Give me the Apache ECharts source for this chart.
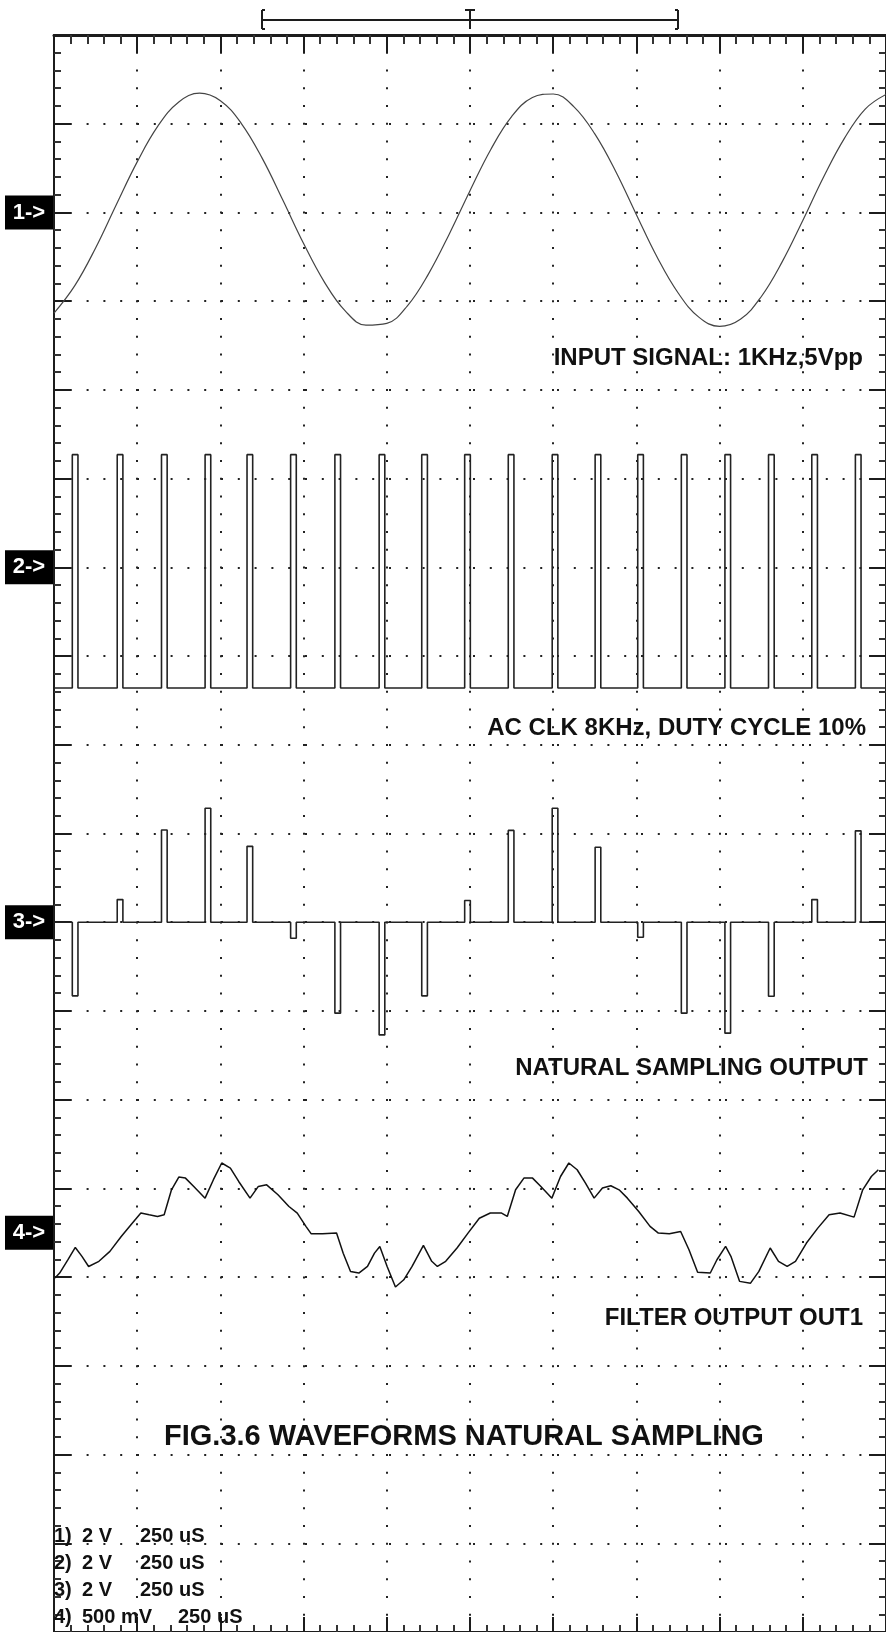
<!DOCTYPE html>
<html>
<head>
<meta charset="utf-8">
<title>FIG.3.6 Waveforms natural sampling</title>
<script src="https://cdn.jsdelivr.net/npm/echarts@6/dist/echarts.min.js"></script>
<style>
  html, body { margin: 0; padding: 0; background: #fff; }
  #chart { width: 886px; height: 1632px; }
</style>
</head>
<body>
<div id="chart"></div>
<script>
// scope screen: 10 div across at 250 uS/div, 18 div down
const timeMax = 2500;
const timeStep = 250;
const divsDown = 18;

// per channel volts/div and where its ground marker sits (div from top)
const channelNames = ['1->', '2->', '3->', '4->'];
const voltsPerDiv = [2, 2, 2, 0.5];
const groundDiv = [2, 6, 10, 13.5];

// ch1: input sine (uS, V)
const inputTime = [0, 62.5, 125, 187.5, 250, 312.5, 375, 437.5, 500, 562.5, 625, 687.5, 750, 812.5, 875, 937.5,
  1000, 1062.5, 1125, 1187.5, 1250, 1312.5, 1375, 1437.5, 1500, 1562.5, 1625, 1687.5, 1750, 1812.5, 1875, 1937.5,
  2000, 2062.5, 2125, 2187.5, 2250, 2312.5, 2375, 2437.5, 2500];
const inputVolts = [-2.27, -1.65, -0.80, 0.18, 1.14, 1.95, 2.49, 2.69, 2.52, 2.01, 1.23, 0.28, -0.70, -1.57, -2.22, -2.54,
  -2.50, -2.10, -1.39, -0.49, 0.49, 1.42, 2.16, 2.59, 2.67, 2.38, 1.77, 0.93, -0.05, -1.01, -1.81, -2.36,
  -2.57, -2.41, -1.90, -1.12, -0.18, 0.80, 1.67, 2.33, 2.66];

// ch2: clock pulses, rising edges (uS)
const clockRise = [55, 190, 323, 454, 580, 711, 844, 977, 1105, 1234, 1365, 1497, 1626, 1754, 1885, 2016, 2147, 2277, 2408];
const clockWidth = 17;
const clockHigh = 2.54;
const clockLow = -2.72;

// ch3: sampled pulse heights (V), one per clock pulse
const sampleVolts = [-1.66, 0.51, 2.08, 2.57, 1.71, -0.36, -2.05, -2.54, -1.66, 0.49, 2.07, 2.57, 1.69, -0.34, -2.05, -2.50, -1.67, 0.51, 2.06];

// ch4: filter output (uS, V)
const filterTime = [3, 17, 42, 64, 84, 104, 135, 168, 202, 235, 261, 286, 311, 331, 353, 375, 395, 420, 454, 479,
  504, 530, 555, 589, 614, 639, 673, 706, 731, 757, 773, 807, 849, 869, 891, 916, 942, 963, 979, 1001,
  1026, 1051, 1076, 1110, 1135, 1152, 1177, 1211, 1244, 1278, 1311, 1345, 1362, 1387, 1412, 1438, 1463, 1496, 1522, 1547,
  1572, 1597, 1623, 1648, 1673, 1698, 1723, 1757, 1791, 1816, 1849, 1883, 1908, 1934, 1972, 1992, 2018, 2034, 2060, 2093,
  2118, 2152, 2177, 2203, 2228, 2261, 2295, 2329, 2362, 2404, 2430, 2456, 2477];
const filterVolts = [-0.255, -0.227, -0.152, -0.083, -0.133, -0.190, -0.161, -0.105, -0.021, 0.054, 0.111, 0.101, 0.092, 0.101, 0.242, 0.314, 0.308, 0.261, 0.195, 0.299,
  0.393, 0.364, 0.289, 0.195, 0.261, 0.270, 0.214, 0.148, 0.111, 0.036, -0.006, -0.006, -0.002, -0.115, -0.218, -0.227, -0.190, -0.115, -0.077, -0.190,
  -0.306, -0.265, -0.190, -0.071, -0.161, -0.190, -0.161, -0.086, -0.002, 0.082, 0.111, 0.111, 0.092, 0.242, 0.308, 0.308, 0.261, 0.195, 0.317, 0.393,
  0.355, 0.280, 0.195, 0.252, 0.265, 0.242, 0.195, 0.120, 0.036, -0.002, -0.006, 0.007, -0.096, -0.223, -0.227, -0.152, -0.077, -0.133, -0.274, -0.284,
  -0.218, -0.086, -0.161, -0.190, -0.161, -0.058, 0.026, 0.101, 0.111, 0.088, 0.242, 0.317, 0.355];

// trigger window bracket above the screen (uS)
const bracketSpan = [625, 1875];
const triggerTime = 1250;

const traceTitles = ['INPUT SIGNAL: 1KHz,5Vpp', 'AC CLK 8KHz, DUTY CYCLE 10%', 'NATURAL SAMPLING OUTPUT', 'FILTER OUTPUT OUT1'];
const figTitle = 'FIG.3.6 WAVEFORMS NATURAL SAMPLING';
const settingRows = [['1)', '2 V', '250 uS'], ['2)', '2 V', '250 uS'], ['3)', '2 V', '250 uS'], ['4)', '500 mV', '250 uS']];

const ink = '#1c1c1c';
const FONT = "'Liberation Sans', Arial, sans-serif";

function zip(xs, ys) { return xs.map((x, i) => [x, ys[i]]); }

function pulseTrain(rises, width, highs, base) {
  const pts = [[0, base]];
  rises.forEach((t, i) => {
    const h = Array.isArray(highs) ? highs[i] : highs;
    pts.push([t, base], [t, h], [t + width, h], [t + width, base]);
  });
  pts.push([timeMax, base]);
  return pts;
}

function rulerX(position, tickLen, minorLen, lineW, withGrid) {
  return {
    type: 'value', position, min: 0, max: timeMax, interval: timeStep,
    axisLine: { onZero: false, lineStyle: { color: ink, width: lineW } },
    axisTick: { inside: true, length: tickLen, lineStyle: { color: ink, width: 2 } },
    minorTick: { show: true, splitNumber: 5, length: minorLen, lineStyle: { color: '#333', width: 2 } },
    axisLabel: { show: false },
    splitLine: { show: withGrid, lineStyle: { color: '#222', width: 2, type: [2, 15.75], dashOffset: 1 } }
  };
}

function rulerY(position, withGrid) {
  return {
    type: 'value', position, min: 0, max: divsDown, interval: 1,
    axisLine: { onZero: false, lineStyle: { color: ink, width: 2 } },
    axisTick: { inside: true, length: 17, lineStyle: { color: ink, width: 2 } },
    minorTick: { show: true, splitNumber: 5, length: 7, lineStyle: { color: '#333', width: 2 } },
    axisLabel: { show: false },
    splitLine: { show: withGrid, lineStyle: { color: '#222', width: 2, type: [2, 14.8], dashOffset: 1 } }
  };
}

function channelAxis(i) {
  return {
    type: 'value', show: false,
    min: -(divsDown - groundDiv[i]) * voltsPerDiv[i],
    max: groundDiv[i] * voltsPerDiv[i]
  };
}

function trace(data, axisIdx, color, width, smooth) {
  return {
    type: 'line', yAxisIndex: axisIdx, data, smooth: smooth || false,
    showSymbol: false, symbol: 'none', silent: true, z: 5,
    lineStyle: { color, width }
  };
}

const chart = echarts.init(document.getElementById('chart'));

chart.setOption({
  animation: false,
  backgroundColor: '#fff',
  textStyle: { fontFamily: FONT },
  grid: { left: 54, top: 35, width: 840, height: 1597 },
  xAxis: [rulerX('bottom', 15, 7, 2, true), rulerX('top', 18, 9, 3, false)],
  yAxis: [rulerY('left', true), rulerY('right', false),
    channelAxis(0), channelAxis(1), channelAxis(2), channelAxis(3)],
  series: [
    trace(zip(inputTime, inputVolts), 2, '#444', 1.2, 0.4),
    trace(pulseTrain(clockRise, clockWidth, clockHigh, clockLow), 3, '#222', 1.6),
    trace(pulseTrain(clockRise, clockWidth, sampleVolts, 0), 4, '#222', 1.6),
    trace(zip(filterTime, filterVolts), 5, '#111', 1.5)
  ]
});

// annotations placed from the axes
const groundY = groundDiv.map((g, i) => chart.convertToPixel({ yAxisIndex: i + 2 }, 0));
const bx0 = chart.convertToPixel({ xAxisIndex: 0 }, bracketSpan[0]);
const bx1 = chart.convertToPixel({ xAxisIndex: 0 }, bracketSpan[1]);
const tx = chart.convertToPixel({ xAxisIndex: 0 }, triggerTime);

const graphic = [];
const seg = (x1, y1, x2, y2, w) => ({
  type: 'line', z: 10, shape: { x1, y1, x2, y2 }, style: { stroke: ink, lineWidth: w || 2 }
});

// trigger bracket
graphic.push(seg(bx0, 20, bx1, 20, 2));
graphic.push(seg(bx0, 10, bx0, 29, 2), seg(bx0, 10, bx0 + 3, 10, 2), seg(bx0, 29, bx0 + 3, 29, 2));
graphic.push(seg(bx1, 10, bx1, 29, 2), seg(bx1, 10, bx1 - 3, 10, 2), seg(bx1, 29, bx1 - 3, 29, 2));
graphic.push(seg(tx, 10, tx, 29, 2), seg(tx - 5, 10, tx + 5, 10, 2));

// channel ground markers
channelNames.forEach((name, i) => {
  graphic.push({
    type: 'group', z: 10, children: [
      { type: 'rect', shape: { x: 5, y: groundY[i] - 17, width: 48, height: 34 }, style: { fill: '#000' } },
      { type: 'text', x: 29, y: groundY[i], style: {
        text: name, fill: '#fff', font: 'bold 22px ' + FONT, align: 'center', verticalAlign: 'middle' } }
    ]
  });
});

// trace captions
const captionPos = [[863, 358], [866, 728], [868, 1068], [863, 1318]];
traceTitles.forEach((t, i) => {
  graphic.push({ type: 'text', z: 10, x: captionPos[i][0], y: captionPos[i][1], style: {
    text: t, fill: '#111', font: 'bold 24px ' + FONT, align: 'right', verticalAlign: 'middle' } });
});

graphic.push({ type: 'text', z: 10, x: 164, y: 1437, style: {
  text: figTitle, fill: '#111', font: 'bold 29px ' + FONT, align: 'left', verticalAlign: 'middle' } });

// scale readout
const rowY = [1536, 1563, 1590, 1617];
settingRows.forEach((row, i) => {
  const timeX = i === 3 ? 178 : 140;
  [[54, row[0]], [82, row[1]], [timeX, row[2]]].forEach(([x, s]) => {
    graphic.push({ type: 'text', z: 10, x, y: rowY[i], style: {
      text: s, fill: '#111', font: 'bold 20px ' + FONT, align: 'left', verticalAlign: 'middle' } });
  });
});

chart.setOption({ graphic });
</script>
</body>
</html>
